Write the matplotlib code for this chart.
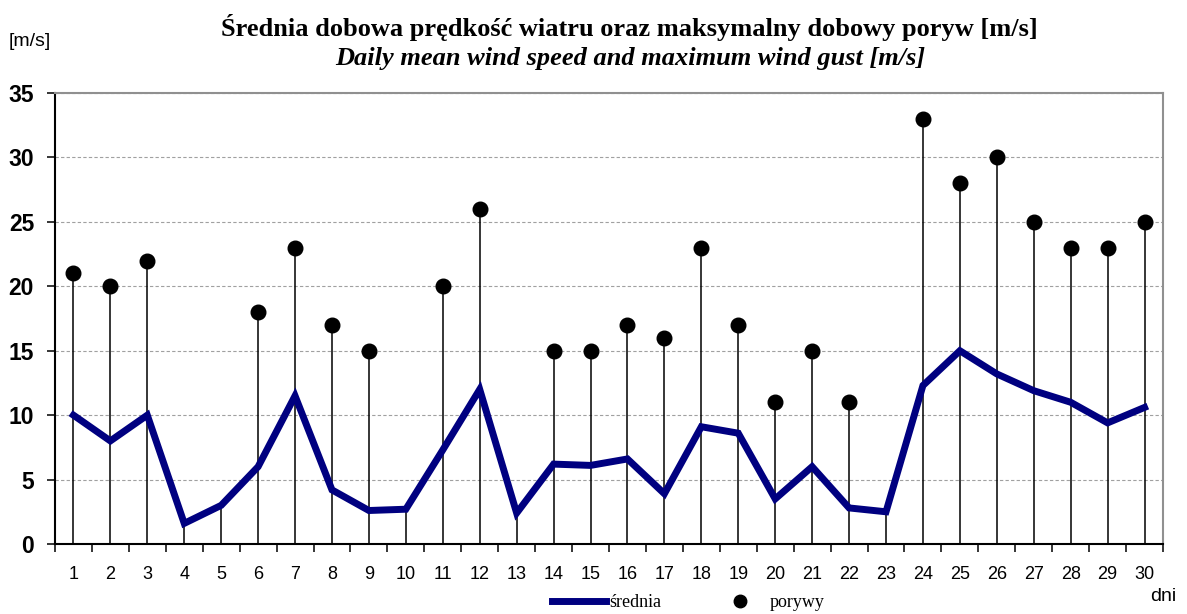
import matplotlib.pyplot as plt
from matplotlib.lines import Line2D
from matplotlib.ticker import MultipleLocator

days = list(range(1, 31))
mean_speed = [10.0, 8.0, 10.0, 1.6, 3.0, 6.0, 11.5, 4.2, 2.6, 2.7,
              7.3, 12.0, 2.4, 6.2, 6.1, 6.6, 3.9, 9.1, 8.6, 3.5,
              6.0, 2.8, 2.5, 12.3, 15.0, 13.2, 11.9, 11.0, 9.4, 10.6]
gusts = [21, 20, 22, None, None, 18, 23, 17, 15, None,
         20, 26, None, 15, 15, 17, 16, 23, 17, 11,
         15, 11, None, 33, 28, 30, 25, 23, 23, 25]

title_pl = "Średnia dobowa prędkość wiatru oraz maksymalny dobowy poryw [m/s]"
title_en = "Daily mean wind speed and maximum wind gust [m/s]"


def do_plot():
    fig = plt.figure(figsize=(11.87, 6.14), dpi=100)
    ax = fig.add_axes([0.0463, 0.114, 0.9335, 0.7345])

    # drop lines from the highest point of each day down to the axis
    for d, m, g in zip(days, mean_speed, gusts):
        top = m if g is None else max(m, g)
        ax.vlines(d, 0, top, color='black', linewidth=1.1, zorder=2)

    ax.plot(days, mean_speed, color='#000080', linewidth=5, zorder=3,
            solid_joinstyle='miter')
    gx = [d for d, g in zip(days, gusts) if g is not None]
    gy = [g for g in gusts if g is not None]
    ax.plot(gx, gy, 'o', color='black', markersize=10.5, zorder=4, linestyle='none')

    ax.set_xlim(0.5, 30.5)
    ax.set_ylim(0, 35)
    ax.yaxis.set_major_locator(MultipleLocator(5))
    ax.set_xticks(days)
    ax.set_xticks([d + 0.5 for d in range(0, 31)], minor=True)
    ax.tick_params(axis='x', which='major', length=0, pad=16, labelsize=13)
    ax.tick_params(axis='x', which='minor', length=6, width=1.1, color='black')
    ax.tick_params(axis='y', length=6, width=1.1, pad=9, labelsize=16.5)
    for lbl in ax.get_xticklabels():
        lbl.set_fontfamily('Liberation Sans')
    for lbl in ax.get_yticklabels():
        lbl.set_fontfamily('Liberation Sans')
        lbl.set_fontweight('bold')

    ax.grid(axis='y', linestyle=(0, (3, 2)), color='#a0a0a0', linewidth=0.8)
    ax.set_axisbelow(True)
    ax.spines['left'].set_color('black')
    ax.spines['bottom'].set_color('black')
    ax.spines['top'].set_color('#909090')
    ax.spines['right'].set_color('#909090')
    for s in ax.spines.values():
        s.set_linewidth(1.5)

    fig.text(0.53, 0.955, title_pl, ha='center', va='center', fontsize=19,
             fontweight='bold', family='Liberation Serif')
    fig.text(0.531, 0.905, title_en, ha='center', va='center', fontsize=19,
             fontweight='bold', style='italic', family='Liberation Serif')
    fig.text(0.007, 0.932, "[m/s]", ha='left', va='center', fontsize=14,
             family='Liberation Sans')
    fig.text(0.969, 0.029, "dni", ha='left', va='center', fontsize=14,
             family='Liberation Sans')

    handles = [Line2D([], [], color='#000080', linewidth=5),
               Line2D([], [], color='black', marker='o', linestyle='none', markersize=9)]
    fig.legend(handles, ['średnia', 'porywy'], loc='center', bbox_to_anchor=(0.58, 0.018),
               ncol=2, frameon=False, prop={'family': 'Liberation Serif', 'size': 13},
               handlelength=3.0, columnspacing=2.9, handletextpad=0.15,
               borderpad=0, borderaxespad=0)

    plt.savefig("out.png", dpi=100)


if __name__ == "__main__":
    do_plot()
